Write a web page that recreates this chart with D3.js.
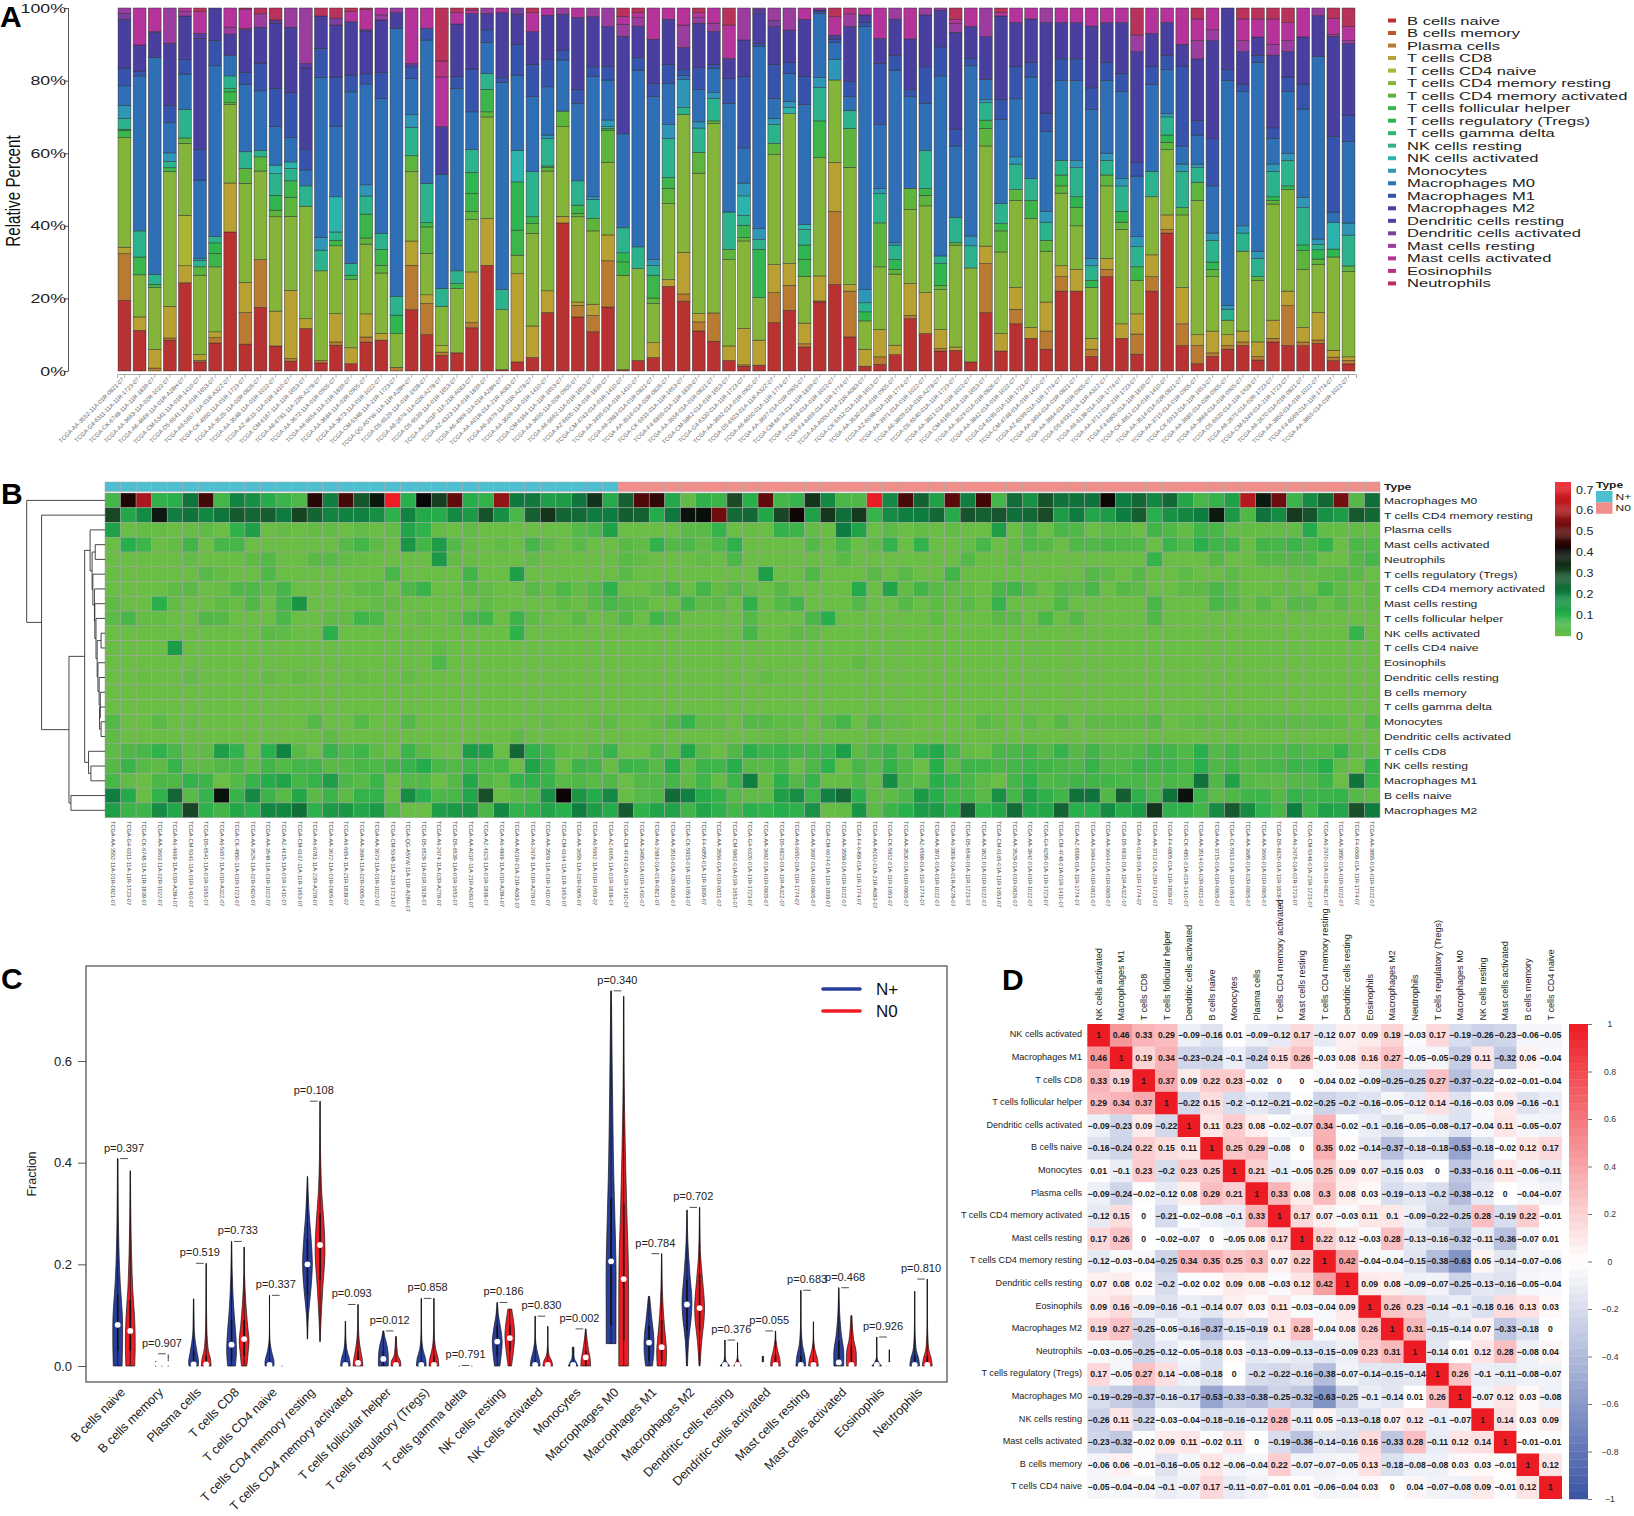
<!doctype html>
<html>
<head>
<meta charset="utf-8">
<title>Immune cell fractions</title>
<style>
body { margin: 0; background: #fff; }
text { font-family: "Liberation Sans", Arial, sans-serif; }
</style>
</head>
<body>
<svg id="fig" width="1634" height="1516"></svg>
<script src="https://cdn.jsdelivr.net/npm/d3@7"></script>
<script>
var cellTypes = ["B cells naive", "B cells memory", "Plasma cells", "T cells CD8", "T cells CD4 naive", "T cells CD4 memory resting", "T cells CD4 memory activated", "T cells follicular helper", "T cells regulatory (Tregs)", "T cells gamma delta", "NK cells resting", "NK cells activated", "Monocytes", "Macrophages M0", "Macrophages M1", "Macrophages M2", "Dendritic cells resting", "Dendritic cells activated", "Mast cells resting", "Mast cells activated", "Eosinophils", "Neutrophils"];
var cellColors = ["#b83232", "#b9552f", "#b97a32", "#b8a032", "#a8b432", "#84b43a", "#5eb53e", "#3cb54a", "#2fb650", "#2cb56e", "#2cb38e", "#2cb3ae", "#2f96b8", "#2f6fb5", "#3654ab", "#483f9e", "#5a3e9f", "#7a3f9f", "#9a3d9f", "#b5339a", "#b83380", "#b8325a"];

var sampleIds = ["AA-3552-11A-01R-0821", "G4-6311-11A-11R-1723", "CK-6748-11A-11R-1839", "AA-3663-11A-02R-1022", "A6-4669-11A-01R-A28H", "CM-5341-11A-01R-1410", "D5-6541-11A-01R-1653", "A6-5657-11A-01R-A32Z", "CK-4950-11A-01R-1723", "AA-3525-11A-02R-0826", "AA-3548-11A-01R-1022", "AZ-4615-11A-01R-1410", "CM-6167-11A-11R-1653", "A6-6781-11A-22R-A278", "AA-3672-11A-01R-0905", "A6-6654-11A-21R-1839", "AA-3684-11A-02R-0905", "AA-3673-11A-01R-1022", "CM-5348-11A-21R-1723", "QG-A5YW-11A-11R-A28H", "D5-6529-11A-01R-1928", "A6-2674-11A-02R-A278", "D5-6539-11A-01R-1653", "AA-A01P-11A-21R-A083", "AZ-4323-11A-01R-1839", "A6-4969-11A-01R-A28H", "AA-A01R-01A-21R-A083", "A6-2679-11A-01R-A278", "AA-3509-11A-01R-1410", "CM-6164-11A-11R-1653", "AA-3655-11A-02R-0905", "A6-5662-11A-01R-1653", "AZ-6605-11A-01R-1839", "CM-4743-01A-01R-1410", "AA-3495-01A-01R-1410", "A6-2683-01A-01R-0821", "AA-3516-01A-02R-0826", "CK-5915-01A-11R-1653", "F4-6855-01A-11R-1839", "AA-3556-01A-01R-0821", "CM-5862-01A-01R-1653", "G4-6320-01A-11R-1723", "AA-3692-01A-01R-0905", "D5-6923-01A-11R-A32Z", "A6-6650-01A-11R-1774", "AA-3697-01A-01R-0905", "CM-6674-01A-11R-1839", "AA-3558-01A-01R-1022", "F4-6459-01A-11R-1774", "AA-A00U-01A-21R-A083", "CK-5912-01A-11R-1653", "AA-3530-01A-01R-0905", "AZ-6598-01A-11R-1774", "AA-3971-01A-01R-1022", "A6-3809-01A-01R-A278", "D5-6540-01A-11R-1723", "AA-3821-01A-01R-1022", "CM-6165-01A-11R-1653", "AA-3529-01A-01R-0826", "AA-3842-01A-01R-1022", "G4-6295-01A-11R-1723", "CM-4748-01A-01R-1410", "AZ-6599-01A-11R-1774", "AA-3494-01A-01R-0821", "AA-3664-01A-01R-0905", "D5-6931-01A-11R-A32Z", "A6-6138-01A-11R-1774", "AA-3712-01A-21R-1723", "F4-6805-01A-11R-1839", "CK-4951-01A-01R-1410", "AA-3514-01A-02R-0821", "AA-3715-01A-01R-0905", "CK-5913-01A-11R-1653", "AA-3685-01A-02R-0905", "AA-3666-01A-01R-0905", "D5-6920-01A-11R-1928", "A6-2675-01A-02R-1723", "CM-5349-01A-21R-1723", "A6-2670-01A-01R-0821", "AA-3850-01A-01R-1022", "F4-6569-01A-11R-1774", "AA-3855-01A-01R-1022"];
var nPlusCount = 33;

// percent of each cell type per sample, same order as cellTypes
var sampleFractions = [
[19.5,0,12.9,1.8,0,30.3,0,2,.3,0,3,0,3.5,5.5,4.9,13.5,0,1.6,1.5,0,0,0],
[11.2,0,0,3.7,0,11.6,0,4.9,0,0,7.2,0,0,42.7,1.3,7.2,0,0,0,10.2,0,0],
[0,0,.8,5.1,0,17.1,0,.9,0,0,2.7,0,0,59.8,0,6.8,.3,0,0,6.5,0,0],
[8.5,0,.6,8.7,0,37.1,0,1.1,0,0,1.7,0,2.4,8.3,4.7,17.2,0,0,9.7,0,0,0],
[24.3,0,0,4.7,13.9,19.8,1.5,0,0,0,7.8,0,0,9.8,4,12,0,0,1.2,1,0,0],
[2.5,0,.4,1.6,0,21.9,2.3,0,0,0,1.8,0,.5,21.6,8.4,30.6,1.4,0,0,6,0,1],
[7.7,0,1.5,1.6,0,17.9,0,3.7,2.9,0,1.7,0,0,47.1,6.9,9,0,0,0,0,0,0],
[38.3,0,0,13.5,0,21.6,.5,3,.9,0,3.5,0,0,5.7,0,5.8,0,0,1.9,5.3,0,0],
[7.4,0,8.7,8.3,0,27.3,4.1,0,0,0,4.6,0,0,18.6,3.2,11.8,0,0,.4,5.3,0,.3],
[17.5,0,13.2,0,0,24.4,3.9,0,0,0,1.7,0,0,16.5,7.6,9.9,0,0,3.7,0,0,1.6],
[6.9,0,0,9.6,0,26,1.8,0,4.1,0,6,2.3,0,10.6,10.6,17.9,.9,0,0,0,0,3.3],
[2.7,0,.7,18.8,0,20.4,5.2,4.6,0,0,3.4,1.8,0,6.7,12.4,18,0,0,5.3,0,0,0],
[11.7,0,0,2.7,0,31,0,0,0,0,5.6,0,0,4.4,5.6,22.5,1.2,0,15.3,0,0,0],
[2.2,0,.7,0,0,24.7,0,0,0,0,5.7,0,3.5,44.1,8,8.9,0,0,0,0,0,2.2],
[7.1,0,.9,7.8,0,18.7,0,1.5,0,0,2.3,9.7,0,19.5,13.5,14.3,0,1.9,0,0,0,2.8],
[2,0,0,4.4,0,18.8,0,1.2,0,0,3.2,0,0,47.3,4.6,14.7,0,0,0,2.8,0,1],
[8,0,1.4,6.4,0,19.3,1.7,6.6,0,0,5,0,3.1,27.9,2.8,11.8,.4,0,0,5.6,0,.4],
[8.5,0,0,1.8,0,16.7,2.1,4.4,0,0,4.4,0,0,37.2,7.1,14.5,0,0,1.4,1.9,0,0],
[0,0,1,0,0,9.3,0,0,5.1,0,5.2,0,0,73.8,0,4.3,0,0,1.3,0,0,0],
[16.9,0,12.2,6.7,0,19.1,4.4,0,0,0,7.8,0,3.5,10,3.2,0,.9,0,0,15.3,0,0],
[10,0,8.6,2.4,0,11.4,7.3,1.2,0,0,10.8,0,0,39.5,3.2,0,0,0,0,5.6,0,0],
[4.3,0,.9,0,1.8,10.8,0,0,0,0,4.9,0,0,31.5,0,13.1,0,0,0,13.7,4.4,14.6],
[5,0,0,0,0,17.7,0,1.4,0,0,3.5,0,0,50.3,3.2,14.5,0,0,0,3.1,0,1.3],
[11.9,0,1.4,14,0,14.4,2.2,5,5.8,0,6.3,0,0,10.4,11.8,15.3,0,0,0,.9,0,.6],
[29.1,0,0,12.9,0,28,1.4,6.2,0,0,4.4,0,0,8.5,3.5,4.5,0,0,1.5,0,0,0],
[.4,0,0,0,0,16.5,0,0,0,0,5.5,0,0,57.1,1.4,17.8,0,0,0,1.3,0,0],
[2.5,0,0,24.3,0,5.1,0,6.9,13.3,0,0,8.7,0,20.7,8.5,8.3,0,1.7,0,0,0,0],
[3.7,0,0,8.7,0,25.5,2.7,1.9,0,0,12.4,0,0,20.7,8.9,9,0,0,0,5.2,0,1.3],
[16.1,0,0,6,0,33,1,.4,0,0,7.6,0,.9,13.3,7.5,12.2,0,0,0,2,0,0],
[40.8,0,0,1.8,0,24.7,4.3,0,0,0,0,0,0,14.1,2.7,9.9,0,0,1.7,0,0,0],
[14.9,0,3.2,.9,0,23.5,.9,2.3,0,0,6.7,0,0,21.3,3.9,19.8,0,0,0,2.6,0,0],
[10.8,0,4.5,3.1,0,20.2,3.4,0,0,0,5.3,0,.7,33.2,2.6,13.8,0,0,2.4,0,0,0],
[17.6,0,12.7,7.1,0,20,8.8,.5,0,0,.5,0,1.8,11,3.7,11,0,0,5.1,0,0,0],
[.4,0,0,0,0,26,0,3.7,2.5,0,6.9,0,0,25.9,0,26.9,0,0,3.3,2.2,0,2.3],
[2.9,0,0,0,0,25.3,0,0,0,0,6,0,0,48.7,3.5,8.6,0,0,2.4,1.3,0,1.3],
[3.7,0,0,4.1,0,10.8,1.5,6.3,0,0,2.7,0,1.6,44.9,3.6,12.2,0,0,0,8.6,0,0],
[23.3,0,0,1.9,0,20.9,4.2,3,0,0,10.8,0,3.8,11.3,5.3,12.4,0,0,0,3.1,0,0],
[19.3,0,2,11.5,0,38.1,0,0,0,0,1.9,0,7.7,1.2,1.6,6.1,0,0,6.2,4.7,0,0],
[11,0,2.5,2.3,0,38.6,5.7,0,0,0,6.7,0,1.7,8.9,6,12.2,0,0,1.6,1.3,0,1.3],
[8.2,0,7.8,0,0,52.2,.7,0,0,0,6.2,0,1.6,6.7,1.1,9,0,0,2.3,4.2,0,0],
[2.9,0,0,4,0,23.8,2.8,0,0,0,10.3,0,0,29.9,6.9,5.5,0,0,0,9.2,0,4.7],
[1.3,0,.4,10,0,24.1,.9,3.4,0,0,2.7,5.4,3.5,9.7,19.7,10,0,0,8.8,0,0,0],
[1.6,0,0,6.9,0,11.7,0,0,13.3,0,2.7,0,3,50.3,.7,8.3,1,.5,0,0,0,0],
[13.3,0,8.3,7.7,0,30.4,3,0,0,0,5.2,0,1.7,5.5,9.4,10.4,0,1.7,3.4,0,0,0],
[16.7,0,6.9,6,0,41.3,0,0,0,0,0,1.7,1.6,7.8,3,8.9,0,0,6.1,0,0,0],
[6.6,0,.9,5.7,0,12.9,0,4.7,3.9,0,4.3,1.4,0,33,7.8,15.7,0,0,0,3.1,0,0],
[19,0,.3,6.9,0,32.6,0,10.1,0,0,9.2,0,2.7,17.7,.6,.4,0,0,0,.5,0,0],
[23.8,0,20.1,13.5,0,22.7,0,0,0,0,0,0,5.7,4.6,.9,1.1,0,0,0,5.1,0,2.4],
[9.4,0,12.6,1.8,0,32.3,10.7,0,0,0,4.9,0,0,3.9,4.1,15.2,0,0,3.5,0,1.6,0],
[1.3,0,0,4.7,0,7.8,0,0,2.5,0,2.5,0,3.6,72.5,1.1,2.1,0,0,0,1.9,0,0],
[1.8,0,2.1,7.5,0,17.3,12.1,0,0,0,8.1,0,1.4,17.6,16.8,6.9,0,0,0,8.4,0,0],
[4.5,0,0,2.6,0,19.6,1.3,0,2.7,0,4,0,.7,47.5,4.1,9.9,0,0,3.1,0,0,0],
[14.4,0,.9,8.8,0,20.4,5.8,0,0,0,0,0,0,25.3,1.9,14,0,0,0,8.5,0,0],
[10.3,0,0,11.3,0,23.9,2.9,1.9,0,0,10.4,0,0,13,10.1,14.3,0,0,1.9,0,0,0],
[5.5,0,.7,5.2,0,11,1.2,0,6,0,2.1,0,0,49.6,8,10.1,0,0,.6,0,0,0],
[5.7,0,0,.9,0,28.1,.7,0,0,0,6.9,0,0,19.7,4.6,26.7,0,0,2.5,1.1,0,3.1],
[2.5,0,0,0,0,25.9,0,0,0,0,6.1,0,2.7,46.9,2,8.8,0,0,0,5.1,0,0],
[16.1,0,13.5,4.8,0,27.6,4.8,2.3,0,0,4.8,0,.9,5.5,0,11.8,0,0,7.9,0,0,0],
[5.5,0,0,4.8,0,22.5,5.8,2,0,0,5.5,0,0,23.2,5.5,23,0,0,0,1,0,1.2],
[13,0,4,6,0,24,3,0,0,0,7,0,2,16,9,12,0,0,0,4,0,0],
[9,0,0,3,0,30,0,5,0,0,6,0,0,28,4,12,0,0,0,3,0,0],
[6,0,5,8,0,14,3,0,0,0,5,0,3,22,5,25,0,0,4,0,0,0],
[22,0,4,3,0,20,2,3,0,0,4,0,0,22,6,10,0,0,0,4,0,0],
[22,0,0,6,0,12,5,0,3,0,8,0,2,22,6,10,0,0,0,4,0,0],
[4,0,2,3,0,14,0,0,2,0,4,0,2,41,6,17,0,0,0,5,0,0],
[26,0,2,3,0,20,3,0,0,0,4,0,2,20,5,11,0,0,0,4,0,0],
[9,0,0,4,0,26,2,0,3,0,7,0,2,24,5,14,0,0,0,4,0,0],
[5,0,6,6,0,10,0,4,0,0,6,0,3,18,4,33,0,0,5,0,0,8],
[22,0,4,6,0,16,0,0,0,0,7,0,0,24,5,9,0,0,0,7,0,0],
[38,0,1,4,0,18,2,0,2,0,5,0,1,12,4,9,0,0,0,4,0,0],
[7,0,6,10,0,20,2,0,0,0,10,0,2,5,22,6,0,0,0,10,0,0],
[2,0,5,3,0,37,5,0,0,0,4,0,1,8,4,17,0,0,5,6,0,3],
[4,0,1,6,0,15,2,0,2,0,6,0,2,13,13,27,0,0,3,6,0,0],
[6,0,1,3,0,4,0,0,0,0,3,0,1,62,3,17,0,0,0,0,0,0],
[7,0,1,3,0,22,0,0,0,0,5,0,2,37,2,9,0,0,3,6,0,3],
[3,0,1,4,0,17,1,0,0,0,5,0,2,52,2,5,0,0,0,5,0,3],
[8,0,1,5,0,32,1,0,1,0,7,0,2,7,3,20,0,0,3,7,0,3],
[7,0,11,4,0,28,0,0,1,0,7,0,2,17,4,7,0,0,3,5,0,4],
[7,0,1,4,0,16,5.3,0,1.5,0,10.3,0,2.8,24.4,6.9,13,0,0,0,8,0,0],
[8,0,1,8,0,14,1.5,0,2.7,0,1.5,0,1.6,53,0,11.9,0,0,2.2,0,0,0],
[3,0,1,2,0,27,0,0,2.3,0,0,7.7,0,3,21.9,29,0,0,.6,4.6,0,3],
[2,0,1,1,0,24,1.6,0,0,0,8.7,0,3.4,23,7.4,20.2,0,0,.8,4,0,5.2]
];

var heatRows = ["Macrophages M0", "T cells CD4 memory resting", "Plasma cells", "Mast cells activated", "Neutrophils", "T cells regulatory (Tregs)", "T cells CD4 memory activated", "Mast cells resting", "T cells follicular helper", "NK cells activated", "T cells CD4 naive", "Eosinophils", "Dendritic cells resting", "B cells memory", "T cells gamma delta", "Monocytes", "Dendritic cells activated", "T cells CD8", "NK cells resting", "Macrophages M1", "B cells naive", "Macrophages M2"];
// merge tree over heatRows indexes: [height, left, right]
var rowTree = [1, 0, [.81, 1, [.46, [.26, [.19, 2, [.165, [.125, 3, 4], [.155, 5, [.135, 6, [.13, 7, [.115, 8, [.1, [.05, 9, 10], [.09, 11, [.075, 12, [.06, 13, [.07, 14, [.05, 15, 16]]]]]]]]]]]], [.21, 17, [.18, 18, 19]]], [.435, 20, 21]]]];

var violinNames = cellTypes;
var pValues = ["p=0.397", "p=0.907", "p=0.519", "p=0.733", "p=0.337", "p=0.108", "p=0.093", "p=0.012", "p=0.858", "p=0.791", "p=0.186", "p=0.830", "p=0.002", "p=0.340", "p=0.784", "p=0.702", "p=0.376", "p=0.055", "p=0.683", "p=0.468", "p=0.926", "p=0.810"];
var bracketTops = [.408, .024, .202, .245, .139, .521, .121, .069, .133, .001, .125, .098, .073, .738, .221, .312, .051, .069, .149, .154, .057, .171];
var medianPlus = [.081, null, .003, .042, .002, .2, .002, .014, .002, null, .048, .002, .002, .206, .046, .121, .002, .002, .002, .007, .002, .002];
var medianZero = [.069, null, .003, .053, null, .238, .006, .002, .002, null, .055, .002, .017, .171, .037, .114, .002, .002, .002, .002, .002, .002];
var boxPlus = [[.03,.14], null, [0,.03], [.01,.09], [0,0], [.14,.25], [0,.01], [0,.03], [0,.01], null, [.02,.08], [0,.01], [0,0], [.08,.33], [.01,.08], [.07,.17], [0,0], [0,0], [0,.02], [0,.05], [0,0], [0,.02]];
var boxZero = [[.03,.13], null, [0,.02], [.02,.09], null, [.17,.3], [0,.03], [0,.01], [0,.02], null, [.03,.08], [0,0], [0,.03], [.05,.32], [.01,.09], [.07,.18], [0,0], [0,.02], [0,.01], [0,.04], [0,0], [0,.02]];
// [fraction, relative half width]
var violinPlus = [
[[0,.9],[.05,1],[.1,.95],[.15,.6],[.2,.35],[.28,.15],[.408,.05]],
null,
[[0,.95],[.01,1],[.03,.65],[.06,.2],[.1,.08],[.132,.04]],
[[0,.8],[.03,1],[.07,.8],[.12,.4],[.18,.15],[.245,.03]],
[[0,.9],[.01,.9],[.03,.4],[.05,.1],[.139,.02]],
[[.053,.03],[.1,.2],[.15,.7],[.2,1],[.25,.75],[.3,.35],[.373,.03]],
[[0,1],[.015,.8],[.03,.35],[.05,.12],[.088,.03]],
[[0,1],[.02,1],[.04,.75],[.055,.35],[.069,.1]],
[[0,1],[.015,.85],[.03,.4],[.05,.12],[.133,.03]],
null,
[[0,.55],[.03,.9],[.05,1],[.08,.6],[.1,.25],[.125,.05]],
[[0,1],[.01,.9],[.03,.4],[.05,.1],[.098,.03]],
[[0,1],[.008,.6],[.015,.25],[.037,.18]],
[[.044,1],[.1,1],[.2,1],[.3,.75],[.4,.5],[.55,.28],[.738,.06]],
[[0,.7],[.03,1],[.06,.95],[.09,.6],[.137,.12]],
[[0,.1],[.05,.35],[.1,.9],[.13,1],[.18,.6],[.24,.2],[.307,.03]],
[[0,1],[.006,.5],[.012,.15],[.051,.03]],
[[0,.55],[.005,.2],[.019,.15]],
[[0,1],[.02,.8],[.04,.35],[.07,.1],[.149,.03]],
[[0,1],[.03,1],[.06,.55],[.1,.2],[.154,.03]],
[[0,1],[.006,.5],[.015,.1],[.057,.03]],
[[0,1],[.015,.8],[.03,.35],[.06,.1],[.147,.02]]
];
var violinZero = [
[[0,.9],[.04,1],[.09,.9],[.15,.5],[.22,.25],[.3,.1],[.384,.03]],
null,
[[0,1],[.015,.85],[.03,.45],[.06,.18],[.1,.08],[.202,.02]],
[[0,.55],[.03,.85],[.05,1],[.08,.7],[.13,.3],[.18,.08],[.234,.03]],
null,
[[.048,.03],[.1,.25],[.16,.6],[.22,1],[.28,.8],[.34,.35],[.41,.12],[.521,.02]],
[[0,1],[.015,.85],[.03,.55],[.05,.25],[.08,.08],[.121,.03]],
[[0,1],[.01,.9],[.02,.4],[.035,.2],[.058,.08]],
[[0,1],[.015,.85],[.03,.45],[.05,.15],[.133,.03]],
null,
[[0,.35],[.03,.75],[.06,1],[.085,.8],[.105,.5],[.112,.4]],
[[0,1],[.01,.8],[.02,.3],[.04,.06],[.078,.02]],
[[0,1],[.015,.9],[.03,.6],[.05,.3],[.073,.05]],
[[0,1],[.1,1],[.2,.95],[.3,.65],[.42,.35],[.55,.12],[.727,.03]],
[[0,.9],[.03,1],[.06,.75],[.1,.4],[.15,.15],[.221,.02]],
[[0,.1],[.05,.45],[.09,.9],[.12,1],[.17,.6],[.22,.2],[.312,.03]],
[[0,.8],[.006,.4],[.015,.08],[.046,.02]],
[[0,1],[.015,.85],[.03,.45],[.05,.12],[.069,.03]],
[[0,1],[.015,.8],[.03,.35],[.05,.08],[.087,.02]],
[[0,1],[.03,.95],[.05,.5],[.08,.2],[.099,.12]],
[[0,.55],[.005,.15],[.032,.02]],
[[0,1],[.015,.8],[.03,.35],[.06,.1],[.171,.02]]
];
// stray outlier specks: [category index, group (-1 N+, 1 N0, 0 between), fraction]
var strayPoints = [[1,-1,0],[1,-1,.009],[1,0,0],[1,1,0],[1,1,.018],[4,1,0],[9,-1,0],[9,1,0]];

var corrNames = ["NK cells activated", "Macrophages M1", "T cells CD8", "T cells follicular helper", "Dendritic cells activated", "B cells naive", "Monocytes", "Plasma cells", "T cells CD4 memory activated", "Mast cells resting", "T cells CD4 memory resting", "Dendritic cells resting", "Eosinophils", "Macrophages M2", "Neutrophils", "T cells regulatory (Tregs)", "Macrophages M0", "NK cells resting", "Mast cells activated", "B cells memory", "T cells CD4 naive"];
var corrValues = [
[1,.46,.33,.29,-.09,-.16,.01,-.09,-.12,.17,-.12,.07,.09,.19,-.03,.17,-.19,-.26,-.23,-.06,-.05],
[.46,1,.19,.34,-.23,-.24,-.1,-.24,.15,.26,-.03,.08,.16,.27,-.05,-.05,-.29,.11,-.32,.06,-.04],
[.33,.19,1,.37,.09,.22,.23,-.02,0,0,-.04,.02,-.09,-.25,-.25,.27,-.37,-.22,-.02,-.01,-.04],
[.29,.34,.37,1,-.22,.15,-.2,-.12,-.21,-.02,-.25,-.2,-.16,-.05,-.12,.14,-.16,-.03,.09,-.16,-.1],
[-.09,-.23,.09,-.22,1,.11,.23,.08,-.02,-.07,.34,-.02,-.1,-.16,-.05,-.08,-.17,-.04,.11,-.05,-.07],
[-.16,-.24,.22,.15,.11,1,.25,.29,-.08,0,.35,.02,-.14,-.37,-.18,-.18,-.53,-.18,-.02,.12,.17],
[.01,-.1,.23,-.2,.23,.25,1,.21,-.1,-.05,.25,.09,.07,-.15,.03,0,-.33,-.16,.11,-.06,-.11],
[-.09,-.24,-.02,-.12,.08,.29,.21,1,.33,.08,.3,.08,.03,-.19,-.13,-.2,-.38,-.12,0,-.04,-.07],
[-.12,.15,0,-.21,-.02,-.08,-.1,.33,1,.17,.07,-.03,.11,.1,-.09,-.22,-.25,.28,-.19,.22,-.01],
[.17,.26,0,-.02,-.07,0,-.05,.08,.17,1,.22,.12,-.03,.28,-.13,-.16,-.32,-.11,-.36,-.07,.01],
[-.12,-.03,-.04,-.25,.34,.35,.25,.3,.07,.22,1,.42,-.04,-.04,-.15,-.38,-.63,.05,-.14,-.07,-.06],
[.07,.08,.02,-.2,-.02,.02,.09,.08,-.03,.12,.42,1,.09,.08,-.09,-.07,-.25,-.13,-.16,-.05,-.04],
[.09,.16,-.09,-.16,-.1,-.14,.07,.03,.11,-.03,-.04,.09,1,.26,.23,-.14,-.1,-.18,.16,.13,.03],
[.19,.27,-.25,-.05,-.16,-.37,-.15,-.19,.1,.28,-.04,.08,.26,1,.31,-.15,-.14,.07,-.33,-.18,0],
[-.03,-.05,-.25,-.12,-.05,-.18,.03,-.13,-.09,-.13,-.15,-.09,.23,.31,1,-.14,.01,.12,.28,-.08,.04],
[.17,-.05,.27,.14,-.08,-.18,0,-.2,-.22,-.16,-.38,-.07,-.14,-.15,-.14,1,.26,-.1,-.11,-.08,-.07],
[-.19,-.29,-.37,-.16,-.17,-.53,-.33,-.38,-.25,-.32,-.63,-.25,-.1,-.14,.01,.26,1,-.07,.12,.03,-.08],
[-.26,.11,-.22,-.03,-.04,-.18,-.16,-.12,.28,-.11,.05,-.13,-.18,.07,.12,-.1,-.07,1,.14,.03,.09],
[-.23,-.32,-.02,.09,.11,-.02,.11,0,-.19,-.36,-.14,-.16,.16,-.33,.28,-.11,.12,.14,1,-.01,-.01],
[-.06,.06,-.01,-.16,-.05,.12,-.06,-.04,.22,-.07,-.07,-.05,.13,-.18,-.08,-.08,.03,.03,-.01,1,.12],
[-.05,-.04,-.04,-.1,-.07,.17,-.11,-.07,-.01,.01,-.06,-.04,.03,0,.04,-.07,-.08,.09,-.01,.12,1]
];

var svg = d3.select("#fig");
var fullIds = sampleIds.map(function(d) { return "TCGA-" + d + "-07"; });

// panel letters
[["A", 0, 27], ["B", 1, 504], ["C", 1, 989], ["D", 1002, 990]].forEach(function(p) {
    svg.append("text").attr("x", p[1]).attr("y", p[2]).attr("font-size", 30)
        .attr("font-weight", "bold").attr("fill", "#000").text(p[0]);
});

/* ---------- A: stacked bars ---------- */
var xBars = d3.scaleBand().domain(fullIds).range([117, 1356]).paddingInner(0.15).paddingOuter(0.07);
var yBars = d3.scaleLinear().domain([0, 1]).range([371, 8]);

var stackRows = sampleFractions.map(function(row, i) {
    var o = { id: fullIds[i] };
    cellTypes.forEach(function(c, j) { o[c] = row[j]; });
    return o;
});
var stacked = d3.stack().keys(cellTypes).offset(d3.stackOffsetExpand)(stackRows);

var panelA = svg.append("g");
stacked.forEach(function(layer, k) {
    panelA.append("g").attr("fill", cellColors[k]).selectAll("rect")
        .data(layer.filter(function(d) { return d[1] - d[0] > 0; }))
        .join("rect")
        .attr("x", function(d) { return xBars(d.data.id); })
        .attr("width", xBars.bandwidth())
        .attr("y", function(d) { return yBars(d[1]); })
        .attr("height", function(d) { return yBars(d[0]) - yBars(d[1]); })
        .attr("stroke", "#2a2a2a").attr("stroke-width", 0.6).attr("stroke-opacity", 0.75);
});

var axisPercent = panelA.append("g").attr("transform", "translate(68.5,0)")
    .call(d3.axisLeft(yBars).tickValues([0, .2, .4, .6, .8, 1]).tickFormat(d3.format(".0%")).tickSize(4));
axisPercent.select(".domain").attr("stroke", "#555").attr("d", "M0,8V371");
axisPercent.selectAll("line").attr("stroke", "#555");
axisPercent.selectAll("text").attr("font-size", 12.5).attr("fill", "#222")
    .attr("font-family", "Liberation Sans")
    .attr("x", -1.8).attr("transform", "scale(1.42,1)");

var axisSamples = panelA.append("g").attr("transform", "translate(0,374)")
    .call(d3.axisBottom(xBars).tickSize(4));
axisSamples.select(".domain").attr("stroke", "#aaa");
axisSamples.selectAll("line").attr("stroke", "#888").attr("stroke-width", 0.6);
axisSamples.selectAll("text").attr("font-size", 5.9).attr("fill", "#666")
    .attr("font-family", "Liberation Sans").attr("text-anchor", "end")
    .attr("dy", 0).attr("y", 0).attr("x", 0)
    .attr("transform", "translate(0,6) rotate(-45)");

panelA.append("text").attr("transform", "translate(20,191) rotate(-90) scale(0.76,1)")
    .attr("text-anchor", "middle").attr("font-size", 20).attr("fill", "#111").text("Relative Percent");

var legendA = panelA.append("g");
cellTypes.forEach(function(c, i) {
    var y = 20.5 + i * 12.52;
    legendA.append("rect").attr("x", 1388).attr("y", y - 2).attr("width", 8).attr("height", 4).attr("fill", cellColors[i]);
    legendA.append("text").attr("transform", "translate(1407," + (y + 4) + ") scale(1.44,1)")
        .attr("font-size", 11.5).attr("fill", "#222").text(c);
});

/* ---------- B: heatmap ---------- */
var xHeat = d3.scaleBand().domain(fullIds).range([105, 1380]);
var yHeat = d3.scaleBand().domain(heatRows).range([493, 817.7]);
var heatColor = d3.scaleLinear()
    .domain([0, .1, .2, .3, .4, .5, .6, .735])
    .range(["#6abd45", "#27b04b", "#0e7d40", "#1a4a26", "#050505", "#5e0a0a", "#a9181c", "#ee1c25"]);

var panelB = svg.append("g");
panelB.append("g").selectAll("rect").data(fullIds).join("rect")
    .attr("x", function(d) { return xHeat(d); })
    .attr("y", 482).attr("width", xHeat.bandwidth()).attr("height", 9.5)
    .attr("fill", function(d, i) { return i < nPlusCount ? "#4dbfd1" : "#f08e8c"; })
    .attr("stroke", "#a8a8a8").attr("stroke-width", 0.5);

heatRows.forEach(function(name) {
    var k = cellTypes.indexOf(name);
    panelB.append("g").selectAll("rect").data(sampleFractions).join("rect")
        .attr("x", function(d, i) { return xHeat(fullIds[i]); })
        .attr("y", yHeat(name))
        .attr("width", xHeat.bandwidth()).attr("height", yHeat.bandwidth())
        .attr("fill", function(d) { return heatColor(d[k] / 100); })
        .attr("stroke", "#a0a0a0").attr("stroke-width", 0.5);
    panelB.append("text").attr("transform", "translate(1384," + (yHeat(name) + yHeat.bandwidth() / 2 + 3.4) + ") scale(1.26,1)")
        .attr("font-size", 9.6).attr("fill", "#222").text(name);
});
panelB.append("text").attr("transform", "translate(1384,490) scale(1.26,1)")
    .attr("font-size", 9.6).attr("font-weight", "bold").attr("fill", "#222").text("Type");

panelB.append("g").selectAll("text").data(fullIds).join("text")
    .attr("transform", function(d) { return "translate(" + (xHeat(d) + xHeat.bandwidth() / 2 - 1.8) + ",821) rotate(90)"; })
    .attr("font-size", 5.6).attr("fill", "#444").text(function(d) { return d; });

// dendrogram, walked from the merge tree
var xTree = d3.scaleLinear().domain([0, 1]).range([105, 26.7]);
var treePath = d3.path();
function walkTree(node) {
    if (typeof node === "number") {
        return { x: xTree(0), y: yHeat(heatRows[node]) + yHeat.bandwidth() / 2 };
    }
    var a = walkTree(node[1]);
    var b = walkTree(node[2]);
    var x = xTree(node[0]);
    treePath.moveTo(a.x, a.y);
    treePath.lineTo(x, a.y);
    treePath.lineTo(x, b.y);
    treePath.lineTo(b.x, b.y);
    return { x: x, y: (a.y + b.y) / 2 };
}
walkTree(rowTree);
panelB.append("path").attr("d", treePath.toString()).attr("fill", "none").attr("stroke", "#333").attr("stroke-width", 0.9);

// heat colour key
var yKey = d3.scaleLinear().domain([0, .7]).range([636, 489.5]);
panelB.append("g").selectAll("rect").data(d3.range(0, .735, .005)).join("rect")
    .attr("x", 1555).attr("width", 16)
    .attr("y", function(d) { return yKey(d) - 1.1; }).attr("height", 1.3)
    .attr("fill", function(d) { return heatColor(d); });
panelB.append("g").selectAll("text").data([0, .1, .2, .3, .4, .5, .6, .7]).join("text")
    .attr("transform", function(d) { return "translate(1576," + (yKey(d) + 4) + ") scale(1.25,1)"; })
    .attr("font-size", 10).attr("fill", "#222").text(function(d) { return d; });
panelB.append("text").attr("transform", "translate(1596,488) scale(1.25,1)")
    .attr("font-size", 9.6).attr("font-weight", "bold").attr("fill", "#222").text("Type");
[["N+", "#4dbfd1"], ["N0", "#f08e8c"]].forEach(function(t, i) {
    panelB.append("rect").attr("x", 1596).attr("y", 491 + i * 11.4).attr("width", 16.5).attr("height", 11.4).attr("fill", t[1]);
    panelB.append("text").attr("transform", "translate(1615.5," + (500 + i * 11.4) + ") scale(1.25,1)")
        .attr("font-size", 9.6).attr("fill", "#222").text(t[0]);
});

/* ---------- C: violins ---------- */
var xVio = d3.scalePoint().domain(violinNames).range([124, 921]);
var yVio = d3.scaleLinear().domain([0, .6]).range([1366, 1061]);
var halfWidth = 4.9, pairGap = 6.3;

var panelC = svg.append("g");
panelC.append("rect").attr("x", 86).attr("y", 966).attr("width", 861).attr("height", 416)
    .attr("fill", "none").attr("stroke", "#555").attr("stroke-width", 1.3);

var axisFraction = panelC.append("g").attr("transform", "translate(86,0)")
    .call(d3.axisLeft(yVio).tickValues([0, .2, .4, .6]).tickFormat(d3.format(".1f")).tickSize(8));
axisFraction.select(".domain").remove();
axisFraction.selectAll("line").attr("stroke", "#555");
axisFraction.selectAll("text").attr("font-size", 13).attr("fill", "#222").attr("font-family", "Liberation Sans").attr("x", -14);

panelC.append("text").attr("transform", "translate(36,1174) rotate(-90)").attr("text-anchor", "middle")
    .attr("font-size", 12.5).attr("fill", "#222").text("Fraction");

function drawViolin(profile, cx, fill, box, med) {
    if (!profile) return;
    var area = d3.area()
        .y(function(d) { return yVio(d[0]); })
        .x0(function(d) { return cx - d[1] * halfWidth; })
        .x1(function(d) { return cx + d[1] * halfWidth; })
        .curve(d3.curveCatmullRom);
    panelC.append("path").attr("d", area(profile)).attr("fill", fill)
        .attr("stroke", "#161616").attr("stroke-width", 0.7);
    var lo = profile[0][0], hi = profile[profile.length - 1][0];
    panelC.append("line").attr("x1", cx).attr("x2", cx).attr("y1", yVio(lo)).attr("y2", yVio(hi))
        .attr("stroke", "#111").attr("stroke-width", 0.8);
    if (box) {
        panelC.append("line").attr("x1", cx).attr("x2", cx).attr("y1", yVio(box[0])).attr("y2", yVio(box[1]))
            .attr("stroke", "#111").attr("stroke-width", 1.6);
    }
    if (med !== null) {
        panelC.append("circle").attr("cx", cx).attr("cy", yVio(med)).attr("r", 2.9).attr("fill", "#fff");
    }
}

violinNames.forEach(function(name, i) {
    var cx = xVio(name);
    drawViolin(violinPlus[i], cx - pairGap, "#2a3f9d", boxPlus[i], medianPlus[i]);
    drawViolin(violinZero[i], cx + pairGap, "#ee1c25", boxZero[i], medianZero[i]);
    var top = yVio(bracketTops[i]);
    panelC.append("line").attr("x1", cx - pairGap + 2.5).attr("x2", cx + pairGap - 2.5)
        .attr("y1", top).attr("y2", top).attr("stroke", "#222").attr("stroke-width", 0.8);
    panelC.append("text").attr("x", cx).attr("y", top - 7).attr("text-anchor", "middle")
        .attr("font-size", 11).attr("fill", "#222").text(pValues[i]);
});
// B cells memory has only a short spike on the N0 side
panelC.append("line").attr("x1", xVio(violinNames[1]) + pairGap).attr("x2", xVio(violinNames[1]) + pairGap)
    .attr("y1", yVio(0.009)).attr("y2", yVio(0.023)).attr("stroke", "#222").attr("stroke-width", 0.8);
panelC.append("g").selectAll("circle").data(strayPoints).join("circle")
    .attr("cx", function(d) { return xVio(violinNames[d[0]]) + d[1] * pairGap; })
    .attr("cy", function(d) { return yVio(d[2]); })
    .attr("r", 0.6).attr("fill", "#333");

panelC.append("g").selectAll("text").data(violinNames).join("text")
    .attr("transform", function(d) { return "translate(" + (xVio(d) + 2) + ",1393) rotate(-45)"; })
    .attr("text-anchor", "end").attr("font-size", 12.6).attr("fill", "#222").text(function(d) { return d; });

[["N+", "#2a3f9d", 989], ["N0", "#ee1c25", 1011]].forEach(function(l) {
    panelC.append("line").attr("x1", 823).attr("x2", 860).attr("y1", l[2]).attr("y2", l[2])
        .attr("stroke", l[1]).attr("stroke-width", 3.6).attr("stroke-linecap", "round");
    panelC.append("text").attr("x", 876).attr("y", l[2] + 6).attr("font-size", 17).attr("fill", "#111").text(l[0]);
});

/* ---------- D: correlation matrix ---------- */
var xCorr = d3.scaleBand().domain(corrNames).range([1087.3, 1561.7]);
var yCorr = d3.scaleBand().domain(corrNames).range([1024, 1498.7]);
var corrColor = d3.scaleLinear().domain([-1, 0, 1]).range(["#3953a4", "#ffffff", "#ed1c24"]);
var formatCorr = function(v) { return String(v).replace("-", "\u2212"); };

var panelD = svg.append("g");
corrValues.forEach(function(row, r) {
    var g = panelD.append("g");
    g.selectAll("rect").data(row).join("rect")
        .attr("x", function(d, c) { return xCorr(corrNames[c]); })
        .attr("y", yCorr(corrNames[r]))
        .attr("width", xCorr.bandwidth() + 0.3).attr("height", yCorr.bandwidth() + 0.3)
        .attr("fill", function(d) { return corrColor(d); });
    g.selectAll("text").data(row).join("text")
        .attr("x", function(d, c) { return xCorr(corrNames[c]) + xCorr.bandwidth() / 2; })
        .attr("y", yCorr(corrNames[r]) + yCorr.bandwidth() / 2 + 3.1)
        .attr("text-anchor", "middle").attr("font-size", 8.7).attr("font-weight", "bold").attr("fill", "#1a1a1a")
        .text(formatCorr);
});
panelD.append("g").selectAll("text").data(corrNames).join("text")
    .attr("x", 1082).attr("y", function(d) { return yCorr(d) + yCorr.bandwidth() / 2 + 2; })
    .attr("text-anchor", "end").attr("font-size", 9.1).attr("fill", "#222").text(function(d) { return d; });
panelD.append("g").selectAll("text").data(corrNames).join("text")
    .attr("transform", function(d) { return "translate(" + (xCorr(d) + xCorr.bandwidth() / 2 + 3.2) + ",1020.5) rotate(-90)"; })
    .attr("font-size", 9.1).attr("fill", "#222").text(function(d) { return d; });

// colour key
var yCorrKey = d3.scaleLinear().domain([-1, 1]).range([1499, 1024]);
var keySteps = d3.range(-1, 1, 1 / 30);
panelD.append("g").selectAll("rect").data(keySteps).join("rect")
    .attr("x", 1569).attr("width", 19)
    .attr("y", function(d) { return yCorrKey(d + 1 / 30); })
    .attr("height", yCorrKey(-1) - yCorrKey(-1 + 1 / 30) + 0.3)
    .attr("fill", function(d) { return corrColor(d + 1 / 60); });
var axisCorr = panelD.append("g").attr("transform", "translate(1588,0)")
    .call(d3.axisRight(yCorrKey).tickValues([-1, -.8, -.6, -.4, -.2, 0, .2, .4, .6, .8, 1]).tickSize(4).tickFormat(formatCorr));
axisCorr.select(".domain").remove();
axisCorr.selectAll("line").attr("stroke", "#333").attr("stroke-width", 0.7);
axisCorr.selectAll("text").attr("font-size", 8.6).attr("fill", "#333").attr("font-family", "Liberation Sans")
    .attr("x", 22).attr("text-anchor", "middle");
</script>
</body>
</html>
